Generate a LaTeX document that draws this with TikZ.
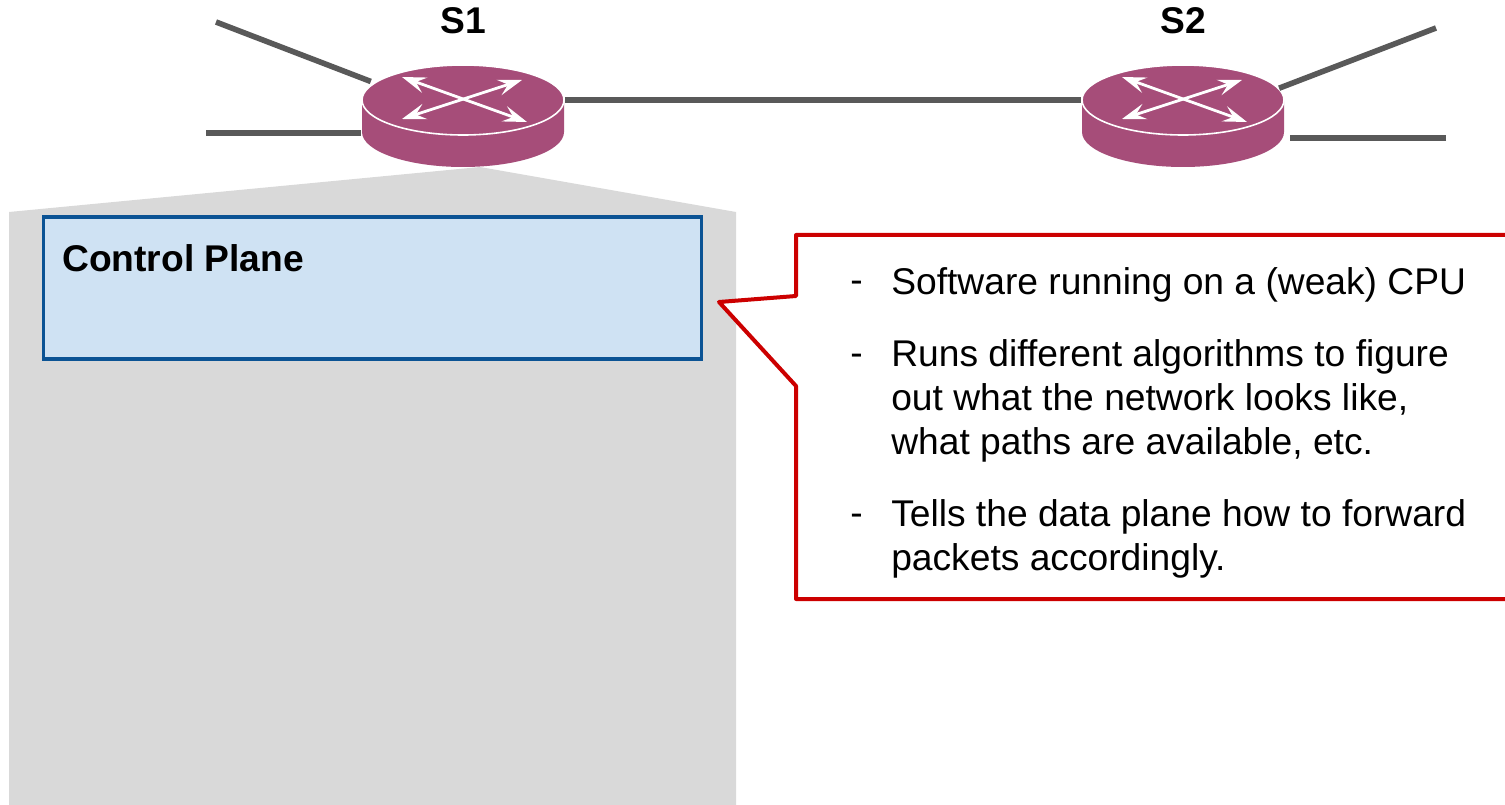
\documentclass[tikz,border=0pt]{standalone}
\usepackage{fontspec}
\setmainfont{Liberation Sans}
\usetikzlibrary{arrows.meta}
\usetikzlibrary{shapes.geometric}
\definecolor{routercol}{HTML}{A64D79}
\definecolor{linkcol}{HTML}{595959}
\definecolor{shadecol}{HTML}{D9D9D9}
\definecolor{planefill}{HTML}{CFE2F3}
\definecolor{planeline}{HTML}{0B5394}
\definecolor{calloutline}{HTML}{CC0000}
\newcommand{\bodyfont}{\fontsize{27.9}{33}\selectfont}
\tikzset{
    link/.style={color=linkcol, line width=4.2pt},
    routertop/.style={ellipse, draw=white, line width=1.2pt, fill=routercol, minimum width=151.5pt, minimum height=52.5pt, inner sep=0pt},
    routerarrow/.style={color=white, line width=2.1pt, {Stealth[length=18pt,width=12pt,inset=7pt]}-{Stealth[length=18pt,width=12pt,inset=7pt]}},
    routername/.style={font=\bodyfont\bfseries, anchor=base},
    planebox/.style={draw=planeline, fill=planefill, line width=2.3pt, minimum width=494pt, minimum height=106.5pt, inner sep=0pt},
    calloutshape/.style={draw=calloutline, fill=white, line width=3pt, line join=round},
    bullet/.style={font=\bodyfont, anchor=base west, inner sep=0pt},
    para/.style={font=\bodyfont, anchor=north west, inner sep=0pt, align=left},
}
\begin{document}
\begin{tikzpicture}[x=0.75pt, y=-0.75pt]
    \useasboundingbox (0,0) rectangle (1505,805);

    \fill[shadecol] (9,212) -- (480,167) -- (736,212) -- (736,805) -- (9,805) -- cycle;

    % links
    \coordinate (a1) at (216,22);
    \coordinate (a2) at (206,133);
    \coordinate (b1) at (1436,28);
    \coordinate (b2) at (1446,138);
    \coordinate (b3) at (1290,138);

    % routers
    \foreach \rname/\rx in {S1/463, S2/1183} {
        \fill[routercol] (\rx-101,100) -- (\rx-101,132) arc (180:0:101 and 35) -- (\rx+101,100) -- cycle;
        \node[routertop] (\rname) at (\rx,100) {};
        \coordinate (\rname nw) at (\rx-61,77);
        \coordinate (\rname ne) at (\rx+59,80);
        \coordinate (\rname sw) at (\rx-61,119);
        \coordinate (\rname se) at (\rx+64,122);
        \draw[routerarrow] (\rname nw) -- (\rname se);
        \draw[routerarrow] (\rname sw) -- (\rname ne);
        \node[routername] (\rname label) at (\rx,34) {\rname};
    }

    \draw[link, line width=5pt] (S1.east) -- (S2.west);
    \draw[link, shorten >=2.5pt] (a1) -- (S1.169);
    \draw[link] (a2) -- (a2 -| S1.west);
    \draw[link] (b1) -- (S2.7);
    \draw[link] (b2) -- (b3);

    \node[planebox] (ctrl) at (372.5,288) {};
    \node[font=\bodyfont\bfseries, anchor=base west, inner sep=0pt] (ctrltitle) at (62,272) {Control Plane};

    % callout, runs off the right side
    \draw[calloutshape] (1510,235) -- (796,235) -- (796,296) -- (719,302) -- (796,386) -- (796,599) -- (1510,599);

    \node[bullet] (d1) at (850,293) {-};
    \node[bullet] (d2) at (850,365) {-};
    \node[bullet] (d3) at (850,525) {-};
    \node[para] (t1) at (891,267) {Software running on a (weak) CPU};
    \node[para] (t2) at (891,339) {Runs different algorithms to figure\\out what the network looks like,\\what paths are available, etc.};
    \node[para] (t3) at (891,499) {Tells the data plane how to forward\\packets accordingly.};
\end{tikzpicture}
\end{document}
